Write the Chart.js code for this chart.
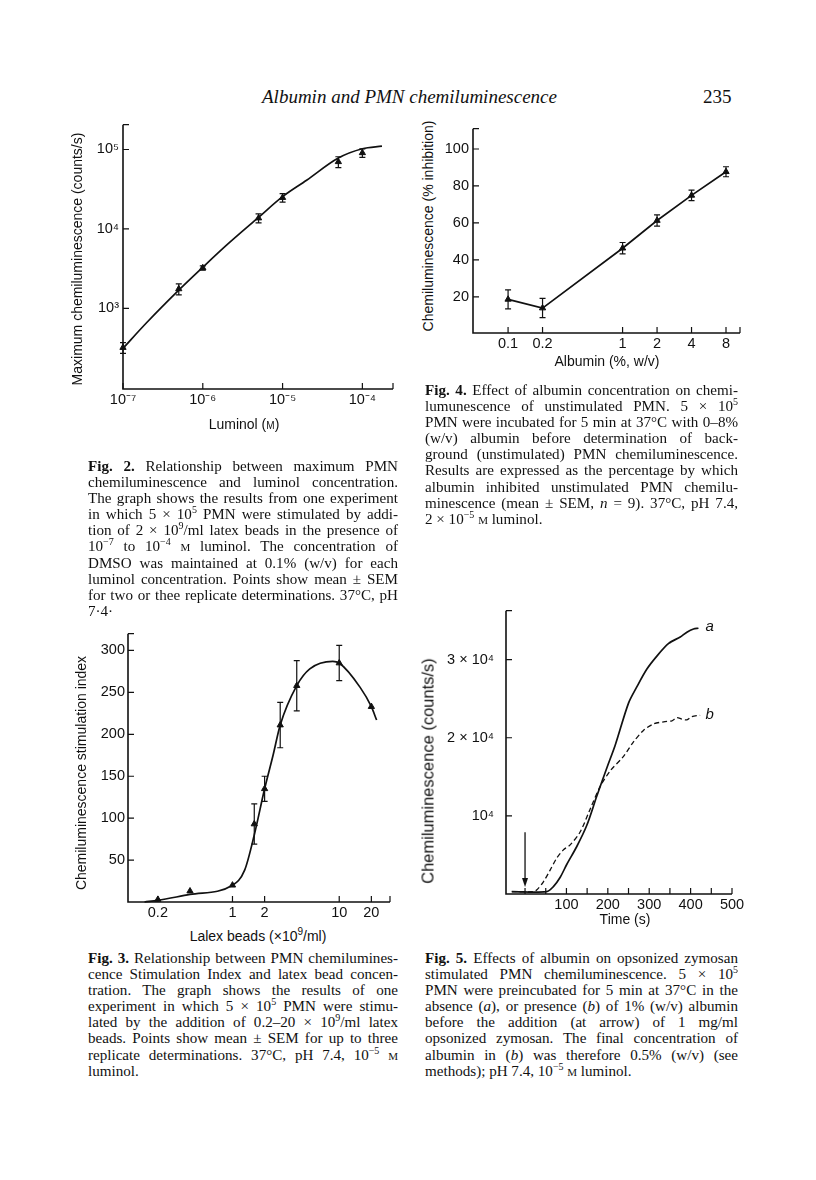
<!DOCTYPE html>
<html>
<head>
<meta charset="utf-8">
<script src="https://cdn.jsdelivr.net/npm/chart.js@4.4.0/dist/chart.umd.min.js"></script>
<style>
  body { margin: 0; background: #fff; width: 816px; height: 1180px; position: relative; overflow: hidden;
         font-family: "Liberation Serif", "Times New Roman", serif; color: #111; }
  canvas { position: absolute; }
  .abs { position: absolute; white-space: nowrap; }
  .hdr { font-style: italic; font-size: 19px; }
  .pg { font-size: 19px; }
  .cap { position: absolute; font-size: 15.1px; line-height: 16.1px; }
  .cap div { text-align: justify; text-align-last: justify; }
  .cap div.end { text-align-last: left; }
  .cap sup, .ax sup { font-size: 10px; line-height: 0; vertical-align: 0; position: relative; top: -6px; }
  .ax { position: absolute; white-space: nowrap; font-family: "Liberation Sans", Arial, sans-serif; font-size: 14px;
        transform: translate(-50%, -50%); }
  .ax.rot { transform: translate(-50%, -50%) rotate(-90deg); }
  .sc { font-variant: small-caps; }
  .nb { white-space: nowrap; }
</style>
</head>
<body>

<div class="abs hdr" style="left:262px;top:86px">Albumin and PMN chemiluminescence</div>
<div class="abs pg" style="left:703px;top:86px">235</div>

<canvas id="fig2"></canvas>
<canvas id="fig4"></canvas>
<canvas id="fig3"></canvas>
<canvas id="fig5"></canvas>

<!-- axis titles -->
<div class="ax rot" style="left:77px;top:259px">Maximum chemiluminescence (counts/s)</div>
<div class="ax" style="left:244px;top:424px">Luminol (<span class="sc">m</span>)</div>

<div class="ax rot" style="left:428px;top:226px">Chemiluminescence (% inhibition)</div>
<div class="ax" style="left:607px;top:361px">Albumin (%, w/v)</div>

<div class="ax rot" style="left:81px;top:773px">Chemiluminescence stimulation index</div>
<div class="ax" style="left:258px;top:936px">Lalex beads (×10<sup>9</sup>/ml)</div>

<div class="ax rot" style="left:428px;top:771px;font-size:16.5px">Chemiluminescence (counts/s)</div>
<div class="ax" style="left:625px;top:919px">Time (s)</div>

<!-- captions -->
<div class="cap" style="left:88px;top:458px;width:310px">
  <div><b>Fig. 2.</b> Relationship between maximum PMN</div>
  <div>chemiluminescence and luminol concentration.</div>
  <div>The graph shows the results from one experiment</div>
  <div>in which 5 × 10<sup>5</sup> PMN were stimulated by addi-</div>
  <div>tion of 2 × 10<sup>9</sup>/ml latex beads in the presence of</div>
  <div>10<sup>−7</sup> to 10<sup>−4</sup> <span class="sc">m</span> luminol. The concentration of</div>
  <div>DMSO was maintained at 0.1% (w/v) for each</div>
  <div>luminol concentration. Points show mean ± SEM</div>
  <div>for two or thee replicate determinations. 37°C, pH</div>
  <div class="end">7·4·</div>
</div>

<div class="cap" style="left:425px;top:382px;width:313px">
  <div><b>Fig. 4.</b> Effect of albumin concentration on chemi-</div>
  <div>lumunescence of unstimulated PMN. 5 × 10<sup>5</sup></div>
  <div>PMN were incubated for 5 min at 37°C with <span class="nb">0–8%</span></div>
  <div>(w/v) albumin before determination of back-</div>
  <div>ground (unstimulated) PMN chemiluminescence.</div>
  <div>Results are expressed as the percentage by which</div>
  <div>albumin inhibited unstimulated PMN chemilu-</div>
  <div>minescence (mean ± SEM, <i>n</i> = 9). 37°C, pH 7.4,</div>
  <div class="end">2 × 10<sup>−5</sup> <span class="sc">m</span> luminol.</div>
</div>

<div class="cap" style="left:88px;top:950px;width:310px">
  <div><b>Fig. 3.</b> Relationship between PMN chemilumines-</div>
  <div>cence Stimulation Index and latex bead concen-</div>
  <div>tration. The graph shows the results of one</div>
  <div>experiment in which 5 × 10<sup>5</sup> PMN were stimu-</div>
  <div>lated by the addition of <span class="nb">0.2–20</span> × 10<sup>9</sup>/ml latex</div>
  <div>beads. Points show mean ± SEM for up to three</div>
  <div>replicate determinations. 37°C, pH 7.4, 10<sup>−5</sup> <span class="sc">m</span></div>
  <div class="end">luminol.</div>
</div>

<div class="cap" style="left:425px;top:950px;width:313px">
  <div><b>Fig. 5.</b> Effects of albumin on opsonized zymosan</div>
  <div>stimulated PMN chemiluminescence. 5 × 10<sup>5</sup></div>
  <div>PMN were preincubated for 5 min at 37°C in the</div>
  <div>absence (<i>a</i>), or presence (<i>b</i>) of 1% (w/v) albumin</div>
  <div>before the addition (at arrow) of 1 mg/ml</div>
  <div>opsonized zymosan. The final concentration of</div>
  <div>albumin in (<i>b</i>) was therefore 0.5% (w/v) (see</div>
  <div class="end">methods); pH 7.4, 10<sup>−5</sup> <span class="sc">m</span> luminol.</div>
</div>

<script>
// Fig. 2 -- luminol concentration (M) vs maximum chemiluminescence (counts/s)
const lumConc = [1e-7, 5e-7, 1e-6, 5e-6, 1e-5, 5e-5, 1e-4];
const lumCL = [322, 1760, 3240, 13700, 24800, 70000, 90700];
const lumSem = [50, 280, 200, 1800, 3000, 11000, 11000];
const lumFitX = [1e-7, 2e-7, 5e-7, 1e-6, 2e-6, 5e-6, 1e-5, 2e-5, 5e-5, 1e-4, 1.76e-4];
const lumFitY = [315, 670, 1700, 3300, 6300, 14000, 25500, 41000, 78000, 102000, 110000];
const lumTicks = [1e-7, 1e-6, 1e-5, 1e-4];
const lumTickLabels = ['10⁻⁷', '10⁻⁶', '10⁻⁵', '10⁻⁴'];
const clTicks = [1e3, 1e4, 1e5];
const clTickLabels = ['10³', '10⁴', '10⁵'];

// Fig. 4 -- albumin (%, w/v) vs % inhibition
const albPct = [0.1, 0.2, 1, 2, 4, 8];
const albInhib = [18.6, 13.9, 46.3, 61.3, 74.9, 87.7];
const albSem = [5.1, 5.2, 3.1, 3.0, 2.8, 2.7];
const albTicks = [0.1, 0.2, 1, 2, 4, 8];
const albTickLabels = ['0.1', '0.2', '1', '2', '4', '8'];
const inhibTicks = [20, 40, 60, 80, 100];
const inhibTickLabels = ['20', '40', '60', '80', '100'];

// Fig. 3 -- latex beads (x10^9/ml) vs stimulation index
const beadConc = [0.2, 0.4, 1, 1.6, 2, 2.8, 4, 10, 20];
const beadSI = [3, 13, 20, 93, 135, 211, 258, 285, 233];
const beadSem = [0, 0, 0, 24, 15, 27, 30, 21, 0];
const beadFitX = [0.15, 0.2, 0.4, 1, 1.3, 1.6, 2, 2.4, 2.8, 4, 5.3, 8.7, 10, 15.7, 20, 22.4];
const beadFitY = [0, 2, 9, 20, 38, 80, 135, 175, 211, 258, 278, 287, 285, 256, 233, 217];
const beadTicks = [0.2, 1, 2, 10, 20];
const beadTickLabels = ['0.2', '1', '2', '10', '20'];
const siTicks = [50, 100, 150, 200, 250, 300];
const siTickLabels = ['50', '100', '150', '200', '250', '300'];

// Fig. 5 -- time (s) vs chemiluminescence, (a) no albumin, (b) 1% albumin
const timeA = [-32, 52, 68, 85, 101, 125, 149, 173, 198, 218, 250, 270, 294, 318, 347, 375, 391, 407, 419];
const clA = [300, 300, 920, 2150, 3810, 6080, 8760, 12470, 16190, 19070, 24430, 26500, 28760, 30420, 32070, 32900, 33510, 33920, 34010];
const timeB = [-32, 20, 28, 44, 60, 77, 93, 109, 133, 157, 181, 206, 238, 262, 286, 310, 335, 355, 367, 379, 391, 403, 423];
const clB = [300, 300, 510, 1530, 3000, 4630, 5670, 6290, 7930, 10820, 13710, 15770, 17620, 19480, 20930, 21760, 22040, 22170, 22570, 22380, 22290, 22700, 22870];
const timeTicks = [0, 50, 100, 150, 200, 250, 300, 350, 400, 450, 500];
const timeTickLabels = ['', '', '100', '', '200', '', '300', '', '400', '', '500'];
const cl5Ticks = [1e4, 2e4, 3e4];
const cl5TickLabels = ['10⁴', '2 × 10⁴', '3 × 10⁴'];

const ink = '#111';
const sans = '"Liberation Sans", Arial, sans-serif';
Chart.defaults.font.family = sans;

const xy = (xs, ys) => xs.map((x, i) => ({x: x, y: ys[i]}));

// draws the L-shaped axes with inward ticks, error bars, and any notes
const paperPlugin = {
  id: 'paper',
  beforeDatasetsDraw(chart) {
    const {ctx} = chart;
    const y = chart.scales.y;
    ctx.save();
    ctx.strokeStyle = ink;
    ctx.lineWidth = 1.2;
    chart.data.datasets.forEach((ds, i) => {
      if (!ds.sem) return;
      chart.getDatasetMeta(i).data.forEach((pt, j) => {
        const s = ds.sem[j];
        if (!s) return;
        const v = ds.data[j].y;
        const y1 = y.getPixelForValue(v + s), y2 = y.getPixelForValue(v - s);
        ctx.beginPath();
        ctx.moveTo(pt.x, y1); ctx.lineTo(pt.x, y2);
        ctx.moveTo(pt.x - 3, y1); ctx.lineTo(pt.x + 3, y1);
        ctx.moveTo(pt.x - 3, y2); ctx.lineTo(pt.x + 3, y2);
        ctx.stroke();
      });
    });
    ctx.restore();
  },
  afterDatasetsDraw(chart, args, o) {
    const {ctx, chartArea: a} = chart;
    const {x, y} = chart.scales;
    ctx.save();
    ctx.strokeStyle = ink;
    ctx.fillStyle = ink;
    ctx.lineWidth = 1.6;
    ctx.beginPath();
    ctx.moveTo(a.left, a.top); ctx.lineTo(a.left, a.bottom); ctx.lineTo(a.right, a.bottom);
    ctx.stroke();
    const L = 6;
    ctx.lineWidth = 1.2;
    ctx.beginPath();
    x.ticks.map(t => x.getPixelForValue(t.value)).concat([a.right]).forEach(px => {
      ctx.moveTo(px, a.bottom); ctx.lineTo(px, a.bottom - L);
    });
    y.ticks.map(t => y.getPixelForValue(t.value)).concat([a.top]).forEach(py => {
      ctx.moveTo(a.left, py); ctx.lineTo(a.left + L, py);
    });
    ctx.stroke();
    if (o.arrow) {
      const ax = x.getPixelForValue(o.arrow.x);
      const y1 = y.getPixelForValue(o.arrow.from), y2 = y.getPixelForValue(o.arrow.to);
      ctx.lineWidth = 1.3;
      ctx.beginPath(); ctx.moveTo(ax, y1); ctx.lineTo(ax, y2 - 6); ctx.stroke();
      ctx.beginPath(); ctx.moveTo(ax - 3, y2 - 9); ctx.lineTo(ax + 3, y2 - 9); ctx.lineTo(ax, y2); ctx.closePath(); ctx.fill();
    }
    (o.notes || []).forEach(n => {
      ctx.font = 'italic 15px ' + sans;
      ctx.textAlign = 'center';
      ctx.textBaseline = 'middle';
      ctx.fillText(n.text, x.getPixelForValue(n.x), y.getPixelForValue(n.y));
    });
    ctx.restore();
  }
};

function axis(type, min, max, vals, labels, pad) {
  return {
    type: type, min: min, max: max, bounds: 'data',
    grid: {display: false, drawTicks: false},
    border: {display: false},
    ticks: {autoSkip: false, maxRotation: 0, minRotation: 0, padding: pad, color: ink,
            font: {family: sans, size: 14.5},
            callback: (v, i) => labels[i] ?? ''},
    afterBuildTicks: s => { s.ticks = vals.map(v => ({value: v})); }
  };
}

function pointSet(data, sem) {
  return {data: data, sem: sem, showLine: false, pointStyle: 'triangle', pointRadius: 3.6,
          backgroundColor: ink, borderColor: ink, borderWidth: 1, clip: false};
}
function curveSet(data, extra) {
  return Object.assign({data: data, showLine: true, pointRadius: 0, borderColor: ink, borderWidth: 1.7,
          cubicInterpolationMode: 'monotone', clip: false}, extra || {});
}

// box: canvas position/size on the page; area: wanted plot area (page px)
function paperChart(id, box, area, datasets, xAx, yAx, paper) {
  const cv = document.getElementById(id);
  cv.width = box.w; cv.height = box.h;
  cv.style.left = box.x + 'px'; cv.style.top = box.y + 'px';
  xAx.afterFit = s => { s.height = box.y + box.h - area.b; };
  yAx.afterFit = s => { s.width = area.l - box.x; };
  return new Chart(cv, {
    type: 'scatter',
    data: {datasets: datasets},
    options: {
      responsive: false, animation: false, devicePixelRatio: 1,
      layout: {padding: {left: 0, bottom: 0, top: area.t - box.y, right: box.x + box.w - area.r}},
      scales: {x: xAx, y: yAx},
      plugins: {legend: {display: false}, tooltip: {enabled: false}, paper: paper || {}}
    },
    plugins: [paperPlugin]
  });
}

// Fig. 2
paperChart('fig2', {x: 80, y: 112, w: 325, h: 305}, {l: 123, t: 123, r: 393, b: 389},
  [curveSet(xy(lumFitX, lumFitY)), pointSet(xy(lumConc, lumCL), lumSem)],
  axis('logarithmic', 1e-7, 2.42e-4, lumTicks, lumTickLabels, 2),
  axis('logarithmic', 97, 205000, clTicks, clTickLabels, 4));

// Fig. 4
paperChart('fig4', {x: 436, y: 116, w: 320, h: 244}, {l: 473, t: 127, r: 740, b: 333},
  [curveSet(xy(albPct, albInhib), {cubicInterpolationMode: 'default', tension: 0}), pointSet(xy(albPct, albInhib), albSem)],
  axis('logarithmic', 0.0494, 10.6, albTicks, albTickLabels, 2),
  axis('linear', 0.4, 111, inhibTicks, inhibTickLabels, 4));

// Fig. 3
paperChart('fig3', {x: 88, y: 622, w: 318, h: 303}, {l: 128, t: 633, r: 390, b: 902},
  [curveSet(xy(beadFitX, beadFitY)), pointSet(xy(beadConc, beadSI), beadSem)],
  axis('logarithmic', 0.105, 29.9, beadTicks, beadTickLabels, 2),
  axis('linear', 0, 320, siTicks, siTickLabels, 3));

// Fig. 5
paperChart('fig5', {x: 436, y: 590, w: 330, h: 327}, {l: 506, t: 601, r: 732, b: 894},
  [curveSet(xy(timeA, clA), {cubicInterpolationMode: 'default', tension: 0.3}),
   curveSet(xy(timeB, clB), {cubicInterpolationMode: 'default', tension: 0.3, borderDash: [5, 3], borderWidth: 1.3})],
  axis('linear', -46, 500, timeTicks, timeTickLabels, 2),
  axis('linear', 0, 36260, cl5Ticks, cl5TickLabels, 12),
  {arrow: {x: 0, from: 7900, to: 900},
   notes: [{text: 'a', x: 446, y: 34200}, {text: 'b', x: 446, y: 22900}]});
</script>
</body>
</html>
